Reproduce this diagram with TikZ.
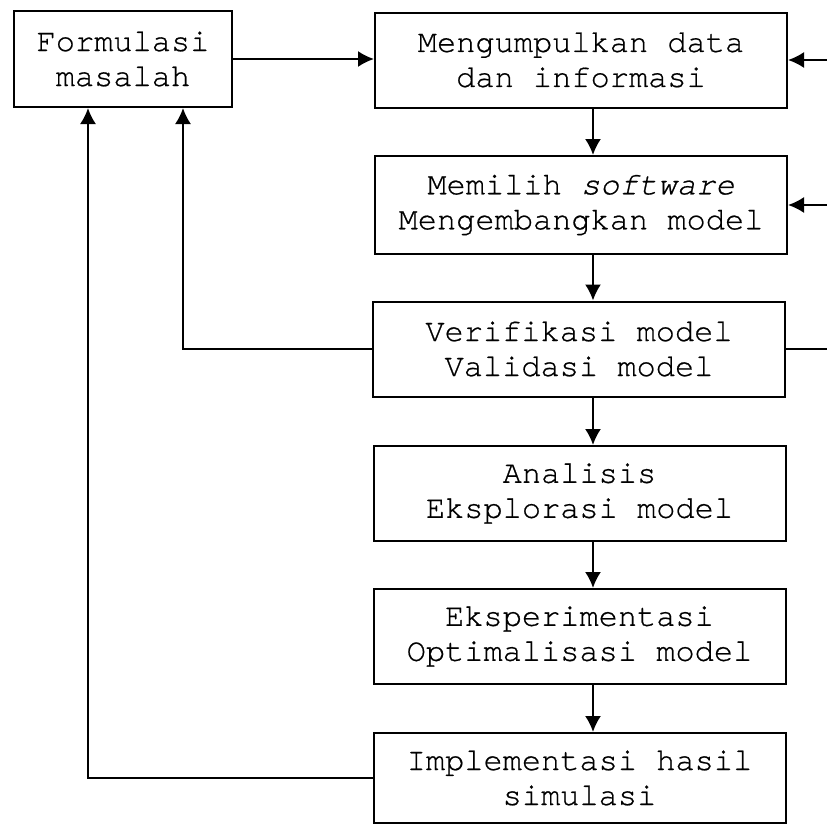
\documentclass[tikz,border=0pt]{standalone}
\usepackage{fontspec}
\setmonofont{TeX Gyre Cursor}[Ligatures=NoCommon,FakeBold=0.6,ItalicFeatures={FakeBold=0.6}]
\usetikzlibrary{arrows.meta}

\begin{document}
\begin{tikzpicture}[x=0.5pt,y=-0.5pt,
  kotak/.style={draw,line width=1pt,minimum width=206pt,minimum height=47.5pt,
    inner sep=0pt,align=center,font=\ttfamily\fontsize{16}{17.5}\selectfont},
  panah/.style={-{Latex[length=8pt,width=8pt]},line width=1pt}]
\clip (0,0) rectangle (827,825) ;
% kotak-kotak tahapan
\node[kotak,minimum width=109pt,minimum height=48pt] (form) at (123,59) {Formulasi\\masalah} ;
\node[kotak] (data) at (581,60) {Mengumpulkan data\\dan informasi} ;
\node[kotak,minimum height=49pt] (soft) at (581,205) {Memilih \textit{software}\\Mengembangkan model} ;
\node[kotak] (veri) at (579,349) {Verifikasi model\\Validasi model} ;
\node[kotak] (anal) at (579.5,493.5) {Analisis\\Eksplorasi model} ;
\node[kotak] (eksp) at (579.5,636.5) {Eksperimentasi\\Optimalisasi model} ;
\node[kotak,minimum height=45pt] (impl) at (579.5,778) {Implementasi hasil\\simulasi} ;
% alur utama
\coordinate (jalur) at (593,0) ;
\draw[panah] (form.east) -- (form.east -| data.west) ;
\draw[panah] (data.south -| jalur) -- (soft.north -| jalur) ;
\draw[panah] (soft.south -| jalur) -- (veri.north -| jalur) ;
\draw[panah] (veri.south -| jalur) -- (anal.north -| jalur) ;
\draw[panah] (anal.south -| jalur) -- (eksp.north -| jalur) ;
\draw[panah] (eksp.south -| jalur) -- (impl.north -| jalur) ;
% umpan balik kiri
\draw[panah] (veri.west) -| ([xshift=30pt]form.south) ;
\draw[panah] (impl.west) -| ([xshift=-17.5pt]form.south) ;
% umpan balik kanan
\coordinate (balik) at (845,0) ;
\draw[panah] (veri.east) -- (veri.east -| balik) |- (data.east) ;
\draw[panah] (balik |- soft.east) -- (soft.east) ;
\end{tikzpicture}
\end{document}
